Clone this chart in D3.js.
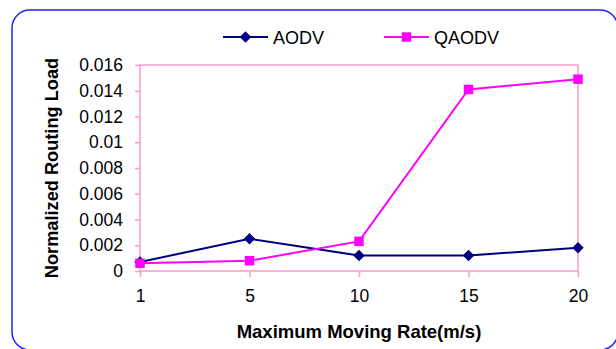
<!DOCTYPE html>
<html>
<head>
<meta charset="utf-8">
<script src="https://cdn.jsdelivr.net/npm/d3@7/dist/d3.min.js"></script>
<style>
  html, body { margin: 0; padding: 0; background: #fff; }
  svg { display: block; font-family: "Liberation Sans", Arial, sans-serif; }
</style>
</head>
<body>
<svg id="chart" width="616" height="349"></svg>
<script>
// Maximum moving rate (m/s) categories
const rates = ["1", "5", "10", "15", "20"];
// Normalized routing load per protocol
const aodv  = [0.0007, 0.0025, 0.0012, 0.0012, 0.0018];
const qaodv = [0.0006, 0.0008, 0.0023, 0.0141, 0.0149];
// Y-axis tick values
const yTicks = [0, 0.002, 0.004, 0.006, 0.008, 0.01, 0.012, 0.014, 0.016];

const svg = d3.select("#chart");

// Outer frame
svg.append("rect")
  .attr("x", 12).attr("y", 10)
  .attr("width", 606).attr("height", 340)
  .attr("rx", 18).attr("ry", 18)
  .attr("fill", "#fff")
  .attr("stroke", "#2222ff").attr("stroke-width", 1.5);

const plot = { left: 140, right: 578, top: 65, bottom: 271 };

const x = d3.scalePoint().domain(rates).range([plot.left, plot.right]);
const y = d3.scaleLinear().domain([0, 0.016]).range([plot.bottom, plot.top]);

const pink = "#ff99cc";

// Plot area border
svg.append("rect")
  .attr("x", plot.left).attr("y", plot.top)
  .attr("width", plot.right - plot.left).attr("height", plot.bottom - plot.top)
  .attr("fill", "none").attr("stroke", pink).attr("stroke-width", 1.5);

// Y axis
const yAxis = svg.append("g")
  .attr("transform", `translate(${plot.left},0)`)
  .call(d3.axisLeft(y).tickValues(yTicks).tickFormat(d3.format("~g"))
    .tickSize(5).tickSizeOuter(0).tickPadding(12));
yAxis.select(".domain").remove();
yAxis.selectAll(".tick line").attr("stroke", pink).attr("stroke-width", 1.5);
yAxis.selectAll(".tick text")
  .attr("font-size", 17.5).attr("fill", "#000")
  .attr("font-family", "Liberation Sans, Arial, sans-serif");

// X axis
const xAxis = svg.append("g")
  .attr("transform", `translate(0,${plot.bottom})`)
  .call(d3.axisBottom(x).tickSize(6).tickSizeOuter(0).tickPadding(13));
xAxis.select(".domain").remove();
xAxis.selectAll(".tick line").attr("stroke", pink).attr("stroke-width", 1.5);
xAxis.selectAll(".tick text")
  .attr("font-size", 17.5).attr("fill", "#000")
  .attr("font-family", "Liberation Sans, Arial, sans-serif");

// Axis titles
svg.append("text")
  .attr("x", 359).attr("y", 338)
  .attr("text-anchor", "middle")
  .attr("font-size", 18.5).attr("font-weight", "bold")
  .text("Maximum Moving Rate(m/s)");

svg.append("text")
  .attr("transform", "translate(58,168) rotate(-90)")
  .attr("text-anchor", "middle")
  .attr("font-size", 18.2).attr("font-weight", "bold")
  .text("Normalized Routing Load");

const line = d3.line().x((d, i) => x(rates[i])).y(d => y(d));

// Square diamond marker (rotated square, equal width and height)
const squareDiamond = {
  draw(ctx, size) {
    const r = Math.sqrt(size / 2);
    ctx.moveTo(0, -r);
    ctx.lineTo(r, 0);
    ctx.lineTo(0, r);
    ctx.lineTo(-r, 0);
    ctx.closePath();
  }
};
const diamond = d3.symbol().type(squareDiamond).size(66);
const square = d3.symbol().type(d3.symbolSquare).size(90);

// AODV series
svg.append("path").datum(aodv)
  .attr("d", line).attr("fill", "none")
  .attr("stroke", "#000080").attr("stroke-width", 2);
svg.append("g").selectAll("path").data(aodv).join("path")
  .attr("transform", (d, i) => `translate(${x(rates[i])},${y(d)})`)
  .attr("d", diamond).attr("fill", "#000080");

// QAODV series
svg.append("path").datum(qaodv)
  .attr("d", line).attr("fill", "none")
  .attr("stroke", "#ff00ff").attr("stroke-width", 2);
svg.append("g").selectAll("path").data(qaodv).join("path")
  .attr("transform", (d, i) => `translate(${x(rates[i])},${y(d)})`)
  .attr("d", square).attr("fill", "#ff00ff");

// Legend
const legend = [
  { name: "AODV", color: "#000080", sym: diamond, x0: 223 },
  { name: "QAODV", color: "#ff00ff", sym: square, x0: 384 }
];
const lg = svg.append("g").selectAll("g").data(legend).join("g")
  .attr("transform", d => `translate(${d.x0},37)`);
lg.append("line").attr("x1", 0).attr("x2", 45).attr("y1", 0).attr("y2", 0)
  .attr("stroke", d => d.color).attr("stroke-width", 2);
lg.append("path").attr("transform", "translate(22.5,0)")
  .attr("d", d => d.sym()).attr("fill", d => d.color);
lg.append("text").attr("x", 50).attr("y", 6.5)
  .attr("font-size", 18).text(d => d.name);
</script>
</body>
</html>
